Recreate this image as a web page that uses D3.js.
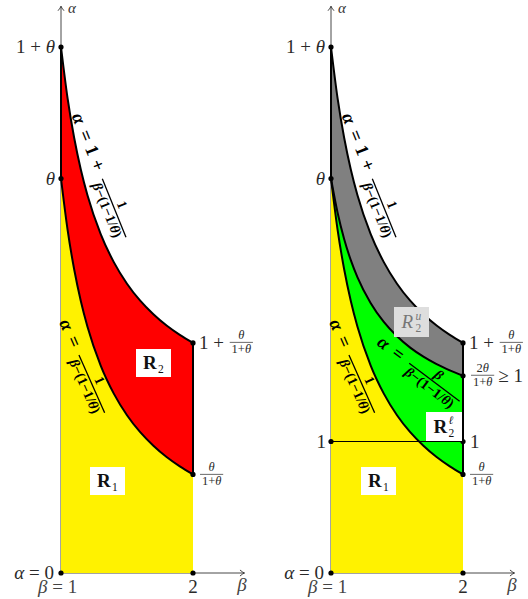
<!DOCTYPE html>
<html>
<head>
<meta charset="utf-8">
<script src="https://cdn.jsdelivr.net/npm/d3@7"></script>
<style>
  body { margin: 0; background: #fff; }
  svg text { white-space: pre; }
</style>
</head>
<body>
<svg id="chart" width="528" height="599"></svg>
<script>
const SERIF = "'Liberation Serif', 'DejaVu Serif', serif";

// theta = 3, curves
const betaVals    = [1, 1.05, 1.1, 1.15, 1.2, 1.3, 1.4, 1.5, 1.6, 1.7, 1.8, 1.9, 2];
const lowerAlpha  = [3.000, 2.609, 2.308, 2.069, 1.875, 1.579, 1.364, 1.200, 1.071, 0.968, 0.882, 0.811, 0.750];
const middleAlpha = [3.000, 2.739, 2.538, 2.379, 2.250, 2.053, 1.909, 1.800, 1.714, 1.645, 1.588, 1.541, 1.500];
const upperAlpha  = [4.000, 3.609, 3.308, 3.069, 2.875, 2.579, 2.364, 2.200, 2.071, 1.968, 1.882, 1.811, 1.750];

const leftDots  = [[1, 4], [1, 3], [2, 1.75], [2, 0.75], [1, 0], [2, 0]];
const rightDots = [[1, 4], [1, 3], [2, 1.75], [2, 1.5], [2, 1], [1, 1], [2, 0.75], [1, 0], [2, 0]];

const panelX = [61, 331];
const TXT = "#2a2a2a";

const svg = d3.select("#chart");
const x = d3.scaleLinear().domain([1, 2]).range([0, 132]);
const y = d3.scaleLinear().domain([0, 4]).range([573, 47]);

svg.append("defs").append("marker")
  .attr("id", "arr").attr("viewBox", "-6 -5 8 10")
  .attr("markerWidth", 8).attr("markerHeight", 10)
  .attr("markerUnits", "userSpaceOnUse")
  .attr("refX", 0).attr("refY", 0).attr("orient", "auto")
  .append("path").attr("d", "M-4.5,-3 Q-1.5,-0.5 0,0 Q-1.5,0.5 -4.5,3")
  .attr("fill", "none").attr("stroke", "#333").attr("stroke-width", 0.9);

// text helpers: parts are "str" or [str, italic, dx]
function run(g, px, py, parts, size, opt = {}) {
  const t = g.append("text").attr("x", px).attr("y", py)
    .attr("font-family", SERIF).attr("font-size", size)
    .attr("font-weight", opt.bold ? "bold" : "normal")
    .attr("fill", opt.color || TXT);
  parts.forEach(p => {
    const [s, it, dx] = Array.isArray(p) ? p : [p, false, 0];
    const ts = t.append("tspan").attr("font-style", it ? "italic" : "normal").text(s);
    if (dx) ts.attr("dx", dx);
  });
  return t;
}
const wid = t => t.node().getBBox().width;

function frac(g, px, axisY, num, den, size, opt = {}) {
  const n = run(g, 0, 0, num, size, opt), d = run(g, 0, 0, den, size, opt);
  const wn = wid(n), wd = wid(d);
  const w = Math.max(wn, wd) + size * 0.3;
  n.attr("x", px + (w - wn) / 2).attr("y", axisY - size * 0.28);
  d.attr("x", px + (w - wd) / 2).attr("y", axisY + size * 0.85);
  g.append("line").attr("x1", px).attr("x2", px + w)
    .attr("y1", axisY).attr("y2", axisY)
    .attr("stroke", opt.color || TXT).attr("stroke-width", opt.bold ? 1.3 : 0.7);
  return w;
}

function rightAlign(g, xr, py, parts, size, opt) {
  const t = run(g, 0, py, parts, size, opt);
  t.attr("x", xr - wid(t));
  return t;
}

function regionBox(cx, cy, w, h, sup, sub, opt = {}) {
  const g = svg.append("g");
  g.append("rect").attr("x", cx - w / 2).attr("y", cy - h / 2).attr("width", w).attr("height", h)
    .attr("fill", opt.fill || "#fff");
  const r = run(g, 0, 0, [["R", !!opt.italic]], 19, { bold: !opt.italic, color: opt.color || "#111" });
  const wr = wid(r);
  const s1 = sub ? run(g, 0, 0, [sub], 11.5, { color: opt.color || "#111" }) : null;
  const s2 = sup ? run(g, 0, 0, [[sup, true]], 11.5, { color: opt.color || "#111" }) : null;
  const ws = Math.max(s1 ? wid(s1) : 0, s2 ? wid(s2) : 0);
  const x0 = cx - (wr + ws + 1) / 2, base = cy + 6;
  r.attr("x", x0).attr("y", base);
  if (s1) s1.attr("x", x0 + wr + 1).attr("y", base + 4);
  if (s2) s2.attr("x", x0 + wr + 1).attr("y", base - 8.5);
}

const bold = { bold: true, color: "#000" };
const DEN = [["β", true], "−(1−1/", ["θ", true], ")"];

function sloped(g, tx, ty, ang, head, num) {
  const lg = g.append("g").attr("transform", `translate(${tx},${ty}) rotate(${ang})`);
  const w = wid(run(lg, 0, 0, head, 18.5, bold));
  frac(lg, w + 9, -5, num, DEN, 14, bold);
}

function drawPanel(ox, right) {
  const g = svg.append("g").attr("transform", `translate(${ox},0)`);

  // axes
  g.append("line").attr("x1", x(1)).attr("x2", x(1)).attr("y1", y(0)).attr("y2", y(4.31))
    .attr("stroke", "#333").attr("stroke-width", 0.9).attr("marker-end", "url(#arr)");
  g.append("line").attr("x1", x(1)).attr("x2", x(2.39)).attr("y1", y(0)).attr("y2", y(0))
    .attr("stroke", "#333").attr("stroke-width", 0.9).attr("marker-end", "url(#arr)");

  const idx = d3.range(betaVals.length);
  const band = (lo, hi) => d3.area().curve(d3.curveMonotoneX)
    .x(i => x(betaVals[i])).y0(i => lo(i)).y1(i => hi(i));

  g.append("path").attr("d", band(() => y(0), i => y(lowerAlpha[i]))(idx)).attr("fill", "#fff200");
  if (!right) {
    g.append("path").attr("d", band(i => y(lowerAlpha[i]), i => y(upperAlpha[i]))(idx)).attr("fill", "#ff0000");
  } else {
    g.append("path").attr("d", band(i => y(lowerAlpha[i]), i => y(middleAlpha[i]))(idx)).attr("fill", "#00ff00");
    g.append("path").attr("d", band(i => y(middleAlpha[i]), i => y(upperAlpha[i]))(idx)).attr("fill", "#808080");
  }

  const curve = arr => d3.line().curve(d3.curveMonotoneX)
    .x(i => x(betaVals[i])).y(i => y(arr[i]))(idx);
  const series = right ? [lowerAlpha, middleAlpha, upperAlpha] : [lowerAlpha, upperAlpha];
  series.forEach(a => g.append("path").attr("d", curve(a))
    .attr("fill", "none").attr("stroke", "#000").attr("stroke-width", 2));

  g.append("line").attr("x1", x(1)).attr("x2", x(1)).attr("y1", y(3)).attr("y2", y(4))
    .attr("stroke", "#000").attr("stroke-width", 2);
  g.append("line").attr("x1", x(2)).attr("x2", x(2)).attr("y1", y(0.75)).attr("y2", y(1.75))
    .attr("stroke", "#000").attr("stroke-width", 2);

  sloped(g, 10.6, 116, 68, [["α", true], ["=", false, 8], ["1", false, 6], ["+", false, 6]], ["1"]);
  sloped(g, -2, 322.5, 66, [["α", true], ["=", false, 8]], ["1"]);
  if (right) sloped(g, 45, 344.5, 37, [["α", true], ["=", false, 8]], [["β", true]]);

  // axis labels
  run(g, x(1) + 7, 12.5, [["α", true]], 15, { color: "#333" });
  rightAlign(g, -6, y(4) + 6, ["1 + ", ["θ", true]], 19);
  rightAlign(g, -6, y(3) + 6, [["θ", true]], 19);
  rightAlign(g, -7, y(0) + 6, [["α", true], " = 0"], 19);
  run(g, -23, 593, [["β", true], " = 1"], 19, { color: "#444" });
  run(g, x(2), 593, ["2"], 19).attr("text-anchor", "middle");
  run(g, x(2.38) - 6, 591, [["β", true]], 19, { color: "#444" });

  // right edge labels
  const w1 = wid(run(g, x(2) + 6, y(1.75) + 6, ["1 + "], 19));
  frac(g, x(2) + 7 + w1, y(1.75) - 0.5, [["θ", true]], ["1+", ["θ", true]], 12.5);
  frac(g, x(2) + 7, y(0.75), [["θ", true]], ["1+", ["θ", true]], 12.5);
  if (right) {
    const wf = frac(g, x(2) + 8, y(1.5) - 0.5, ["2", ["θ", true]], ["1+", ["θ", true]], 12.5);
    run(g, x(2) + 8 + wf + 4, y(1.5) + 6, ["≥ 1"], 19);
    run(g, x(2) + 7, y(1) + 6, ["1"], 19);
    rightAlign(g, -5, y(1) + 6, ["1"], 19);
  }
  return g;
}

const gl = drawPanel(panelX[0], false);
const gr = drawPanel(panelX[1], true);

// region labels
regionBox(107.5, 481, 35, 28, null, "1");
regionBox(153.5, 363, 35, 28, null, "2");
regionBox(378.5, 481, 35, 28, null, "1");
regionBox(411.5, 322, 35, 30, "u", "2", { fill: "#dedede", italic: true, color: "#777" });
regionBox(444, 426.5, 36, 29, "ℓ", "2");

// alpha = 1 line and dots on top
gr.append("line").attr("x1", x(1)).attr("x2", x(2)).attr("y1", y(1)).attr("y2", y(1))
  .attr("stroke", "#000").attr("stroke-width", 1);

[[gl, leftDots], [gr, rightDots]].forEach(([g, pts]) => {
  g.selectAll("circle.pt").data(pts).enter().append("circle").attr("class", "pt")
    .attr("cx", d => x(d[0])).attr("cy", d => y(d[1])).attr("r", 2.6).attr("fill", "#000");
});
</script>
</body>
</html>
